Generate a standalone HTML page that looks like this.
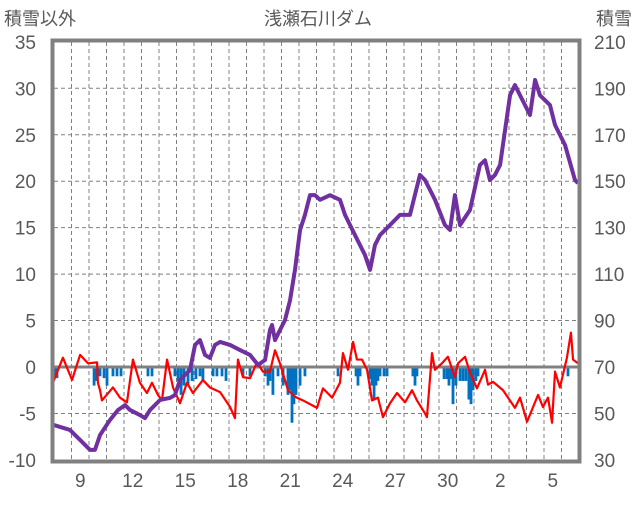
<!DOCTYPE html>
<html><head><meta charset="utf-8"><style>
body{margin:0;background:#fff;}
svg text{font-family:"Liberation Sans","Noto Sans CJK JP",sans-serif;fill:#595959;}
</style></head><body>
<svg id="chart" width="636" height="501" xmlns="http://www.w3.org/2000/svg">
<text x="4" y="25" font-size="18">積雪以外</text>
<text x="318" y="25" font-size="18" text-anchor="middle">浅瀬石川ダム</text>
<text x="632" y="25" font-size="18" text-anchor="end">積雪</text>
<g id="grid"></g>
<g id="bars"></g>
<g id="lines"></g>
<g id="axes"></g>
</svg>
<script>
const dayLabels=["9","12","15","18","21","24","27","30","2","5"];
const dayLabelPos=[9,12,15,18,21,24,27,30,33,36];
const leftTicks=[35,30,25,20,15,10,5,0,-5,-10];
const rightTicks=[210,190,170,150,130,110,90,70,50,30];
const snowT=[8,8.91,9.49,10.06,10.34,10.63,11.2,11.66,12.06,12.34,12.91,13.2,13.49,14.06,14.63,14.91,15.2,15.77,16.06,16.34,16.63,16.91,17.2,17.49,18.06,18.63,19.2,19.66,20.06,20.34,20.46,20.63,20.91,21.2,21.49,21.77,22.06,22.34,22.63,22.91,23.2,23.77,24.34,24.63,25.2,25.77,26.06,26.34,26.63,27.2,27.77,28.34,28.91,29.2,29.77,30.34,30.63,30.91,31.2,31.77,32.34,32.63,32.91,33.2,33.49,34.06,34.34,34.63,35.2,35.49,35.77,36.34,36.63,37.2,37.77,37.94];
const snowCm=[45,42.9,38.6,34.3,34.3,40.7,47.2,51.5,53.6,51.5,49.3,48,51.5,55.8,56.7,57.9,64.4,68.7,79.5,81.6,75.2,73.9,79.5,80.8,79.5,77.3,75.2,70.9,73,85.9,88.1,81.6,85.9,90.2,98.8,111.8,129,135.5,144,144,142,144,142,135.5,126.8,118.2,111.8,122.5,126.8,131.1,135.5,135.5,152.7,150.5,142,131.1,129,144,131.1,137.6,157,159,150.5,152.7,157,187,191.4,187,178.5,193.6,187,182.8,174.2,165.6,150.5,149.2];
const otherT=[7.94,8.51,9.03,9.49,9.94,10.46,10.51,10.63,10.74,11.37,11.77,12.17,12.51,12.91,13.31,13.6,13.94,14.17,14.46,14.8,15.2,15.6,15.94,16.51,16.91,17.49,18.06,18.34,18.51,18.8,19.2,19.6,19.94,20.34,20.63,20.91,21.37,21.77,22.23,23.03,23.37,23.89,24.34,24.51,24.8,25.09,25.31,25.6,25.89,26.17,26.51,26.8,27.2,27.6,28.06,28.46,28.74,29.2,29.31,29.6,29.77,30.17,30.51,30.91,31.09,31.49,31.77,32.17,32.63,32.8,33.09,33.66,34.34,34.63,35.03,35.66,35.94,36.23,36.46,36.63,36.91,37.31,37.54,37.66,37.94];
const otherV=[-1.7,1.0,-1.4,1.3,0.4,0.5,-1.7,-2.5,-3.6,-2.2,-3.3,-3.8,0.8,-1.7,-2.8,-1.7,-3.0,-3.6,0.8,-2.2,-3.9,-1.7,-2.8,-1.4,-2.2,-2.7,-4.3,-5.5,0.8,-1.1,-1.2,0.5,-0.5,-0.5,1.8,0.4,-2.5,-3.2,-3.6,-4.4,-2.3,-3.3,-1.7,1.5,-0.3,2.7,0.8,0.8,-0.3,-3.6,-3.3,-5.4,-3.9,-2.8,-3.8,-2.5,-3.6,-5.0,-5.4,1.5,-0.3,0.4,1.1,-1.1,0.4,1.1,-0.6,-2.3,-0.3,-1.9,-1.6,-2.5,-4.4,-3.3,-5.9,-3.0,-4.3,-3.3,-6.0,-0.5,-2.2,1.0,3.7,0.8,0.4];
const barT=[8.06,8.17,10.29,10.4,10.51,10.63,10.86,11.03,11.37,11.6,11.83,13.37,13.6,14.91,15.09,15.26,15.43,15.66,15.89,16.11,16.34,16.51,17.09,17.31,17.6,17.83,18.8,19.2,20.06,20.23,20.34,20.51,20.8,21.09,21.37,21.49,21.6,21.71,21.83,22.06,22.34,24.23,25.26,25.37,25.49,26.06,26.17,26.29,26.4,26.51,26.63,26.86,27.03,28.51,28.63,28.74,30.29,30.46,30.57,30.69,30.8,30.97,31.2,31.37,31.54,31.71,31.83,31.94,32.11,32.23,37.37];
const barV=[-1,-1.2,-2,-1.5,-1,-1,-1.2,-2,-1,-1,-1,-1,-1,-1,-1.5,-3,-2,-2,-1.5,-1.3,-1,-1.5,-1,-1,-1,-1.5,-1,-1,-1,-2,-1.5,-3,-1,-2,-3,-2.5,-6,-4,-3,-2,-1,-1,-1,-2,-1,-1.3,-2,-3.5,-2,-1.5,-1,-1,-1,-1,-2,-1,-1.3,-1.3,-2,-1.3,-4,-2,-1.5,-1.5,-1.5,-3.5,-4,-2.5,-1.5,-1,-1];

const NS="http://www.w3.org/2000/svg";
const L=54,R=578,T=42,B=460;
const xS=t=>L+(t-8)*17.5;
const yS=v=>367-v*9.29;
const yR=c=>yS((c-70)/4);
function mk(tag,attrs,parent){const e=document.createElementNS(NS,tag);for(const k in attrs)e.setAttribute(k,attrs[k]);parent.appendChild(e);return e;}
const grid=document.getElementById('grid'),bars=document.getElementById('bars'),lines=document.getElementById('lines'),axes=document.getElementById('axes');
for(let d=9;d<38;d++){const x=xS(d);const g=mk('line',{x1:x,x2:x,y1:T,y2:B,stroke:'#808080','stroke-width':1,'stroke-dasharray':'4,3'},grid);

}
leftTicks.forEach((v,i)=>{const y=yS(v);
if(v!==0&&v!==35&&v!==-10){const g=mk('line',{x1:L,x2:R,y1:y,y2:y,stroke:'#808080','stroke-width':1,'stroke-dasharray':'4,3'},grid);

}
const t=mk('text',{x:36,y:y+7,'font-size':19,'text-anchor':'end'},axes);t.textContent=v;


const r=mk('text',{x:594,y:yR(rightTicks[i])+7,'font-size':19},axes);r.textContent=rightTicks[i];

});
dayLabels.forEach((s,i)=>{const t=mk('text',{x:xS(dayLabelPos[i]+0.5),y:487,'font-size':19,'text-anchor':'middle'},axes);t.textContent=s;

});
barT.forEach((t,i)=>{const y0=yS(0),y1=yS(barV[i]);const b=mk('rect',{x:xS(t)-1.4,y:y0,width:2.8,height:y1-y0,fill:'#0070c0'},bars);

});
const z=mk('line',{x1:L,x2:R,y1:yS(0),y2:yS(0),stroke:'#808080','stroke-width':3},lines);


const rp=mk('polyline',{points:otherT.map((t,i)=>xS(t)+','+yS(otherV[i])).join(' '),fill:'none',stroke:'#ff0000','stroke-width':2.2,'stroke-linejoin':'round'},lines);


const sp=mk('polyline',{points:snowT.map((t,i)=>xS(t)+','+yR(snowCm[i])).join(' '),fill:'none',stroke:'#7030a0','stroke-width':4,'stroke-linejoin':'round'},lines);


const fr=mk('rect',{x:L-1.5,y:T-1.5,width:R-L+3,height:B-T+3,fill:'none',stroke:'#808080','stroke-width':4},axes);


</script>
</body></html>
